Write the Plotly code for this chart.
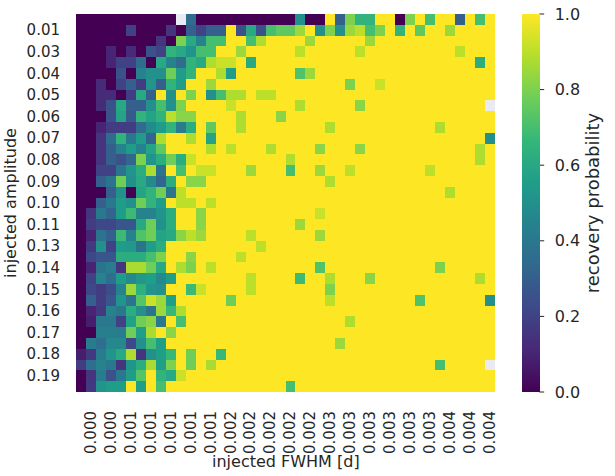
import plotly.graph_objects as go

N = None  # missing cell (no trials)

# recovery probability grid: rows = injected amplitude bins, cols = injected FWHM bins
recovery = [
    [0,0,0,0,0,0,0,0,0,0, N,.35,0,0,0,0,0,0,0,0, 0,0,.5,0,0,1,.3,.8,.65,.65, 1,1,0,.8,1,.7,1,1,.3,1, .7,1],
    [0,0,0,0,0,.2,0,0,0,.15, 0,.3,.2,.3,.3,1,.25,.6,.25,.7, .75,.75,.85,1,.5,.8,.5,.85,.9,.7, .8,1,.65,1,.75,1,1,.85,1,1, 1,1],
    [0,0,0,0,0,0,0,0,.15,0, .8,.6,.45,.7,.7,1,1,.7,.88,1, 1,1,1,.85,1,1,1,1,1,.85, 1,1,1,1,1,1,1,1,1,1, 1,1],
    [0,0,0,.1,0,.12,0,.25,.2,.65, .6,.52,.7,.7,1,1,.85,1,1,1, 1,1,.9,1,1,1,1,1,.9,1, 1,1,1,1,1,1,1,1,.9,1, 1,1],
    [0,0,0,.1,.2,.2,.35,0,.6,.45, .35,.65,.6,.88,.92,.92,1,.6,1,1, 1,1,1,1,1,1,1,1,1,1, 1,1,1,1,1,1,1,1,1,1, .62,1],
    [0,0,0,0,.25,0,.45,.5,.5,.78, .55,.65,1,1,.88,.55,1,1,1,1, 1,1,.72,.85,1,1,1,1,1,1, 1,1,1,1,1,1,1,1,1,1, 1,1],
    [0,0,.12,0,.2,.3,.18,.52,.3,.65, .55,1,1,.85,1,1,1,1,1,1, 1,1,1,1,1,1,1,.8,1,1, .92,1,1,1,1,1,1,1,1,1, 1,1],
    [0,0,.12,.12,0,.18,.6,.3,1,.5, 1,.8,1,.5,.7,.88,.88,1,.9,.9, 1,1,1,1,1,1,1,1,1,1, 1,1,1,1,1,1,1,1,1,1, 1,1],
    [0,0,.12,.25,.6,.3,.3,.5,.7,.5, .8,1,1,1,1,.92,1,1,1,1, 1,1,.88,1,1,1,1,1,.82,1, 1,1,1,1,1,1,1,1,1,1, 1,N],
    [0,0,0,.25,.58,.28,.65,.58,.65,.9, .82,.82,1,1,1,1,.88,1,1,1, .82,1,1,1,1,1,1,1,1,1, 1,1,1,1,1,1,1,1,1,1, 1,1],
    [0,0,.1,.18,.18,.18,.35,.48,.55,.65, .42,.62,1,.75,1,1,.88,1,1,1, 1,1,1,1,1,.88,1,1,1,1, 1,1,1,1,1,1,.88,1,1,1, 1,1],
    [0,0,.15,.35,.65,.4,.55,.32,.88,1, 1,.88,1,.58,1,1,1,1,1,1, 1,1,1,1,1,1,1,1,1,1, 1,1,1,1,1,1,1,1,1,1, 1,.5],
    [0,0,.15,.3,.45,.55,.45,.58,.75,1, 1,1,1,.88,1,.9,1,1,1,.88, 1,1,1,1,.82,1,1,1,.82,1, 1,1,1,1,1,1,1,1,1,1, .88,1],
    [0,0,.15,.3,.25,.33,.8,.52,.62,.78, .62,.92,1,1,1,1,1,1,1,1, 1,.88,1,1,1,1,1,1,1,1, 1,1,1,1,1,1,1,1,1,1, .88,1],
    [0,0,.2,.2,.38,.52,.62,.88,.38,1, .7,1,.92,.92,1,1,1,.85,1,1, 1,.7,1,1,.85,1,1,.9,1,1, 1,1,1,1,1,.9,1,1,1,1, 1,1],
    [0,0,.3,.38,.78,.5,.6,.48,.33,.62, 1,.82,.82,1,1,1,1,1,1,1, 1,1,1,1,1,.88,1,1,1,1, 1,1,1,1,1,1,1,1,1,1, 1,1],
    [0,0,0,.3,.5,0,.58,.65,.78,.38, .9,1,1,1,1,1,1,1,1,1, 1,1,1,1,1,1,1,1,1,1, 1,1,1,1,1,1,1,.88,1,1, 1,1],
    [0,0,.3,.4,.55,.5,.78,.65,.55,1, .9,.9,1,.9,1,1,1,1,1,1, 1,1,1,1,1,1,1,1,1,1, 1,1,1,1,1,1,1,1,1,1, 1,1],
    [0,.15,.4,.32,.55,.68,.45,.45,.52,.62, 1,1,.82,1,1,1,1,1,1,1, 1,1,1,1,.92,1,1,1,1,1, 1,1,1,1,1,1,1,1,1,1, 1,1],
    [0,.18,.22,.22,.27,.27,.6,.78,.5,.62, 1,1,.82,1,1,1,1,1,1,1, 1,1,.85,1,1,1,1,1,1,1, 1,1,1,1,1,1,1,1,1,1, 1,1],
    [0,.1,.38,.3,.68,.45,.72,.78,.58,.6, .82,.9,.85,1,1,1,1,.9,1,1, 1,1,1,1,.85,1,1,1,1,1, 1,1,1,1,1,1,1,1,1,1, 1,1],
    [0,.17,.5,.2,.55,.53,.38,.55,.62,1, 1,1,1,1,1,1,1,1,.9,1, 1,1,1,1,1,1,1,1,1,1, 1,1,1,1,1,1,1,1,1,1, 1,1],
    [0,.22,.27,.27,.62,.62,.62,.7,.8,1, 1,.82,1,1,1,1,.9,1,1,1, 1,1,1,1,1,1,1,1,1,1, 1,1,1,1,1,1,1,1,1,1, 1,1],
    [0,.1,.38,.42,.15,.87,.87,.78,.6,1, .88,.8,1,.9,1,1,1,1,1,1, 1,1,1,1,.72,1,1,1,1,1, 1,1,1,1,1,1,.8,1,1,1, 1,1],
    [0,.2,.45,.36,.55,.47,.53,.56,.47,.55, 1,1,1,1,1,1,1,.9,1,1, 1,1,.68,1,1,.88,1,1,1,.82, 1,1,1,1,1,1,1,1,1,1, .88,1],
    [0,.22,.18,.24,.45,.85,.63,.52,.5,1, 1,.68,.92,1,1,1,1,.9,1,1, 1,1,1,1,1,.8,1,1,1,1, 1,1,1,1,1,1,1,1,1,1, 1,1],
    [0,.3,.18,.27,.52,.38,.73,.92,.85,.56, 1,1,1,1,1,.78,1,1,1,1, 1,1,1,1,1,.9,1,1,1,1, 1,1,1,1,.72,1,1,1,1,1, 1,.5],
    [0,.1,.17,.45,.4,.62,.5,.38,.85,.67, .88,1,1,1,1,1,1,1,1,1, 1,1,1,1,1,1,1,1,1,1, 1,1,1,1,1,1,1,1,1,1, 1,1],
    [0,.08,.4,.4,.2,.57,.78,.82,.4,1, .7,1,1,1,1,1,1,1,1,1, 1,1,1,1,1,1,1,.88,1,1, 1,1,1,1,1,1,1,1,1,1, 1,1],
    [0,0,.43,.43,.42,.78,.56,.87,1,.82, 1,1,1,1,1,1,1,1,1,1, 1,1,1,1,1,1,1,1,1,1, 1,1,1,1,1,1,1,1,1,1, 1,1],
    [0,.42,.36,.47,.47,.22,.5,.7,.56,1, 1,1,1,1,1,1,1,1,1,1, 1,1,1,1,1,1,.85,1,1,1, 1,1,1,1,1,1,1,1,1,1, 1,1],
    [.08,.17,.42,.52,.6,.88,.15,.5,.56,.67, 1,.78,1,1,.67,1,1,1,1,1, 1,1,1,1,1,1,1,1,1,1, 1,1,1,1,1,1,1,1,1,1, 1,1],
    [.18,.36,.45,.4,.15,.52,.62,.87,.56,.8, 1,.78,1,.87,1,1,1,1,1,1, 1,1,1,1,1,1,1,1,1,1, 1,1,1,1,1,1,.7,1,1,1, 1,N],
    [0,.15,.42,.25,.4,.55,.73,1,.65,.6, .92,1,1,1,1,1,1,1,1,1, 1,1,1,1,1,1,1,1,1,1, 1,1,1,1,1,1,1,1,1,1, 1,1],
    [0,.17,.52,.55,.55,1,.56,1,.7,1, 1,1,1,1,1,1,1,1,1,1, 1,.7,1,1,1,1,1,1,1,1, 1,1,1,1,1,1,1,1,1,1, 1,1],
]

# tick labels shown on the axes (every second bin)
fwhm_labels = ["0.000", "0.000", "0.001", "0.001", "0.001", "0.001", "0.001",
               "0.002", "0.002", "0.002", "0.002", "0.002", "0.003", "0.003",
               "0.003", "0.003", "0.003", "0.003", "0.004", "0.004", "0.004"]
amp_labels = ["0.01", "0.03", "0.04", "0.05", "0.06", "0.07", "0.08", "0.09",
              "0.10", "0.11", "0.13", "0.14", "0.15", "0.16", "0.17", "0.18", "0.19"]
cbar_ticks = [0.0, 0.2, 0.4, 0.6, 0.8, 1.0]

n_rows = len(recovery)
n_cols = len(recovery[0])
col_idx = list(range(n_cols))
row_idx = list(range(n_rows))

TXT = "#262626"
FONT = "DejaVu Sans"

# plot area in pixels: x 76..502, y 14..392 ; colorbar x 529..547
PW = 426.0
CB_X0 = (529 - 76) / PW
CB_X1 = (547 - 76) / PW

fig = go.Figure(go.Heatmap(
    z=recovery, x=col_idx, y=row_idx,
    colorscale="Viridis", zmin=0, zmax=1,
    hoverongaps=False,
    colorbar=dict(
        x=CB_X0, xanchor="left", xpad=0, y=0.5, yanchor="middle",
        len=1, lenmode="fraction", thickness=18, thicknessmode="pixels",
        outlinewidth=0, ypad=0,
        tickvals=cbar_ticks, tickformat=".1f",
        ticks="outside", ticklen=12, tickwidth=1, tickcolor="rgba(0,0,0,0)",
        tickfont=dict(family=FONT, size=16, color=TXT),
        title=dict(text="recovery probability", side="right",
                   font=dict(family=FONT, size=18, color=TXT)),
    ),
))

# short visible tick marks on the colorbar
for v in cbar_ticks:
    fig.add_shape(type="line", xref="paper", yref="paper",
                  x0=CB_X1, x1=CB_X1 + 5 / PW, y0=v, y1=v,
                  line=dict(color=TXT, width=1))

fig.add_annotation(text="injected FWHM [d]", xref="paper", yref="paper",
                   x=0.5, y=(392 - 461) / 378.0, xanchor="center", yanchor="middle",
                   showarrow=False, font=dict(family=FONT, size=16, color=TXT))

fig.update_layout(
    width=615, height=476,
    margin=dict(l=76, r=113, t=14, b=84, pad=0),
    paper_bgcolor="white", plot_bgcolor="#eaeaf2",
    font=dict(family=FONT, color=TXT),
    xaxis=dict(
        range=[-0.5, n_cols - 0.5], showgrid=False, zeroline=False,
        tickmode="array", tickvals=col_idx[1::2], ticktext=fwhm_labels,
        tickangle=-90, ticks="outside", ticklen=12, tickcolor="rgba(0,0,0,0)",
        tickfont=dict(family=FONT, size=15, color=TXT),
        automargin=False,
    ),
    yaxis=dict(
        range=[n_rows - 0.5, -0.5], showgrid=False, zeroline=False,
        tickmode="array", tickvals=row_idx[1::2], ticktext=amp_labels,
        ticks="outside", ticklen=12, tickcolor="rgba(0,0,0,0)",
        tickfont=dict(family=FONT, size=15, color=TXT),
        title=dict(text="injected amplitude", standoff=5,
                   font=dict(family=FONT, size=16, color=TXT)),
        automargin=False,
    ),
)

fig.write_html("out.html", config={"displayModeBar": False},
               post_script="document.body.style.margin='0';")
